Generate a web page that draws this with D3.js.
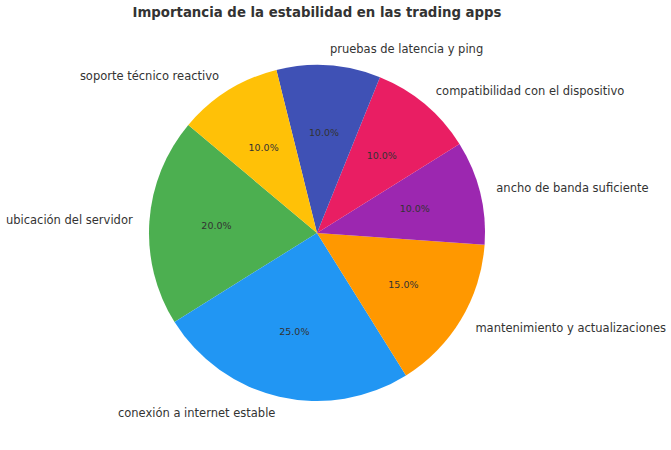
<!DOCTYPE html>
<html>
<head>
<meta charset="utf-8">
<script src="https://cdn.jsdelivr.net/npm/d3@7"></script>
<style>
  body { margin: 0; background: #fff; }
  text { font-family: "DejaVu Sans", sans-serif; fill: #333; }
</style>
</head>
<body>
<svg id="chart" width="671" height="450"></svg>
<script>
// slice order as plotted, counter-clockwise from start angle 140deg
var categories = ["ubicación del servidor", "conexión a internet estable", "mantenimiento y actualizaciones",
                  "ancho de banda suficiente", "compatibilidad con el dispositivo", "pruebas de latencia y ping",
                  "soporte técnico reactivo"];
var values = [20, 25, 15, 10, 10, 10, 10];
var colors = ["#4CAF50", "#2196F3", "#FF9800", "#9C27B0", "#E91E63", "#3F51B5", "#FFC107"];
var title = "Importancia de la estabilidad en las trading apps";

var svg = d3.select("#chart"),
    cx = 317, cy = 233, r = 168;

var total = d3.sum(values);
var data = categories.map(function(c, i) { return { name: c, value: values[i], color: colors[i] }; });

// matplotlib style: angles in math convention (ccw from +x), start at 140deg
var toRad = d3.scaleLinear().domain([0, total]).range([0, 2 * Math.PI]);
var start = 140 * Math.PI / 180, acc = 0;
data.forEach(function(d) {
  d.a0 = start + toRad(acc);
  acc += d.value;
  d.a1 = start + toRad(acc);
  d.mid = (d.a0 + d.a1) / 2;
});

// d3.arc measures clockwise from 12 o'clock, so convert
function d3ang(a) { return Math.PI / 2 - a; }
var arc = d3.arc().innerRadius(0).outerRadius(r);

var g = svg.append("g").attr("transform", "translate(" + cx + "," + cy + ")");

g.selectAll("path.slice")
  .data(data)
  .enter().append("path")
    .attr("class", "slice")
    .attr("d", function(d) { return arc({ startAngle: d3ang(d.a1), endAngle: d3ang(d.a0) }); })
    .attr("fill", function(d) { return d.color; });

g.selectAll("text.label")
  .data(data)
  .enter().append("text")
    .attr("class", "label")
    .attr("x", function(d) { return 1.1 * r * Math.cos(d.mid); })
    .attr("y", function(d) { return -1.1 * r * Math.sin(d.mid); })
    .attr("dy", "0.35em")
    .attr("text-anchor", function(d) { return Math.cos(d.mid) >= 0 ? "start" : "end"; })
    .style("font-size", "11.5px")
    .text(function(d) { return d.name; });

var fmt = d3.format(".1f");
g.selectAll("text.pct")
  .data(data)
  .enter().append("text")
    .attr("class", "pct")
    .attr("x", function(d) { return 0.6 * r * Math.cos(d.mid); })
    .attr("y", function(d) { return -0.6 * r * Math.sin(d.mid); })
    .attr("dy", "0.35em")
    .attr("text-anchor", "middle")
    .style("font-size", "9.5px")
    .text(function(d) { return fmt(d.value / total * 100) + "%"; });

svg.append("text")
  .attr("x", cx)
  .attr("y", 17)
  .attr("text-anchor", "middle")
  .style("font-size", "13.3px")
  .style("font-weight", "bold")
  .text(title);
</script>
</body>
</html>
